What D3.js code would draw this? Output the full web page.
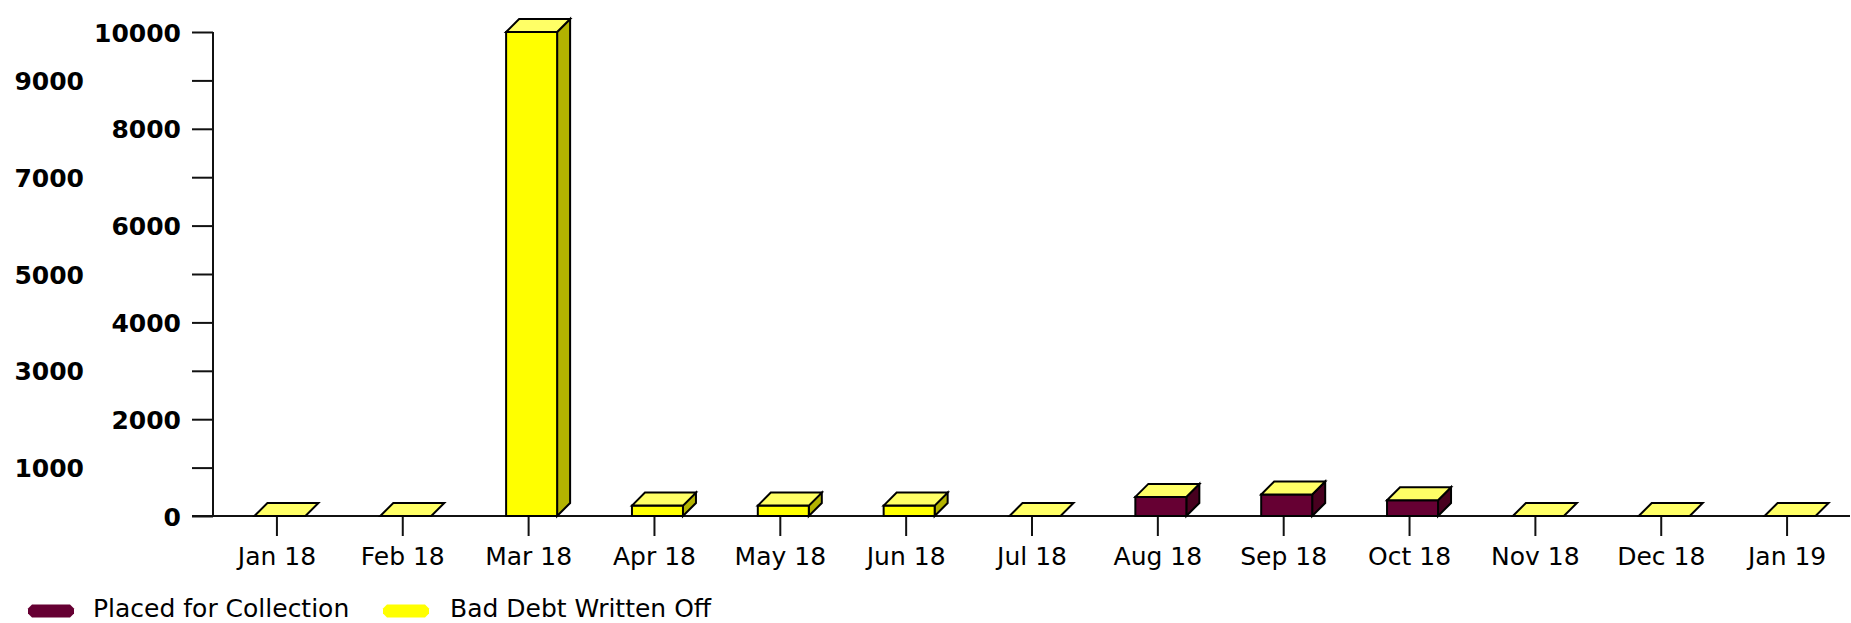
<!DOCTYPE html>
<html>
<head>
<meta charset="utf-8">
<script src="https://cdn.jsdelivr.net/npm/d3@7/dist/d3.min.js"></script>
<style>
  html, body { margin: 0; padding: 0; background: #fff; }
  svg { display: block; }
  text { font-family: "DejaVu Sans", sans-serif; fill: #000; }
</style>
</head>
<body>
<svg id="chart" width="1851" height="623"></svg>
<script>
// Monthly amounts (stacked: collection underneath, write-offs on top)
const categories = ["Jan 18", "Feb 18", "Mar 18", "Apr 18", "May 18", "Jun 18", "Jul 18",
                    "Aug 18", "Sep 18", "Oct 18", "Nov 18", "Dec 18", "Jan 19"];
const placedForCollection = [0, 0, 0, 0, 0, 0, 0, 395, 445, 325, 0, 0, 0];
const badDebtWrittenOff  = [0, 0, 10000, 215, 215, 215, 0, 0, 0, 0, 0, 0, 0];
const yTickValues = [0, 1000, 2000, 3000, 4000, 5000, 6000, 7000, 8000, 9000, 10000];
const seriesNames = ["Placed for Collection", "Bad Debt Written Off"];

const seriesStyle = [
  { front: "#660033", side: "#48001f", top: "#8a2a55" },
  { front: "#ffff00", side: "#b3b300", top: "#ffff66" }
];

const svg = d3.select("#chart");

const x = d3.scaleBand().domain(categories).range([214, 1850]).padding(0);
const y = d3.scaleLinear().domain([0, 10000]).range([516, 32]);

const axisX = 213, axisY = y(0);
const depthX = 13, depthY = 13;
const barOffset = -22.5, barWidth = 51;

// stacked layout
const rows = categories.map((c, i) => ({
  cat: c,
  [seriesNames[0]]: placedForCollection[i],
  [seriesNames[1]]: badDebtWrittenOff[i]
}));
const stacked = d3.stack().keys(seriesNames)(rows);

// ---- axes ----
const gy = svg.append("g").attr("transform", `translate(${axisX},0)`)
  .call(d3.axisLeft(y).tickValues(yTickValues).tickSize(21).tickPadding(0).tickFormat(d3.format("d")));
gy.select(".domain").remove();
gy.selectAll(".tick line").attr("stroke", "#111").attr("stroke-width", 2);
gy.selectAll(".tick text")
  .attr("font-size", 25).attr("font-weight", "bold")
  .attr("font-family", "DejaVu Sans, sans-serif")
  .attr("dy", "0.36em")
  .attr("x", (d, i) => i % 2 === 0 ? -32 : -129)
  .attr("text-anchor", "end");

const gx = svg.append("g").attr("transform", `translate(0,${axisY})`)
  .call(d3.axisBottom(x).tickSize(20).tickPadding(0));
gx.select(".domain").remove();
gx.selectAll(".tick line").attr("stroke", "#111").attr("stroke-width", 2);
gx.selectAll(".tick text")
  .attr("font-size", 25)
  .attr("font-family", "DejaVu Sans, sans-serif")
  .attr("y", 31).attr("dy", "0.71em");

// axis lines
svg.append("line").attr("x1", axisX).attr("x2", axisX).attr("y1", y(10000)).attr("y2", axisY)
  .attr("stroke", "#111").attr("stroke-width", 2);
svg.append("line").attr("x1", axisX - 21).attr("x2", 1850).attr("y1", axisY).attr("y2", axisY)
  .attr("stroke", "#111").attr("stroke-width", 2);

// ---- 3D stacked bars ----
const bars = svg.append("g").attr("stroke", "#000").attr("stroke-width", 2).attr("stroke-linejoin", "miter");

categories.forEach((c, i) => {
  const x0 = x(c) + x.bandwidth() / 2 + barOffset;
  const x1 = x0 + barWidth;
  const g = bars.append("g");
  stacked.forEach((layer, k) => {
    const [v0, v1] = layer[i];
    if (v1 - v0 <= 0) return;
    const yb = y(v0), yt = y(v1);
    // side face
    g.append("path")
      .attr("d", `M${x1},${yb} L${x1 + depthX},${yb - depthY} L${x1 + depthX},${yt - depthY} L${x1},${yt} Z`)
      .attr("fill", seriesStyle[k].side);
    // front face
    g.append("rect").attr("x", x0).attr("y", yt).attr("width", barWidth).attr("height", yb - yt)
      .attr("fill", seriesStyle[k].front);
  });
  // top face of the stack, coloured by the uppermost series
  const topVal = stacked[stacked.length - 1][i][1];
  const yt = y(topVal);
  g.append("path")
    .attr("d", `M${x0},${yt} L${x0 + depthX},${yt - depthY} L${x1 + depthX},${yt - depthY} L${x1},${yt} Z`)
    .attr("fill", seriesStyle[stacked.length - 1].top);
});

// ---- legend ----
const legend = svg.append("g");
const legendItems = [
  { name: seriesNames[0], color: seriesStyle[0].front, sx: 28, tx: 93 },
  { name: seriesNames[1], color: seriesStyle[1].front, sx: 383, tx: 450 }
];
const pill = (x0, yc) => {
  const w = 46, h = 13, c = 4;
  return `M${x0 + c},${yc - h / 2} L${x0 + w - c},${yc - h / 2} L${x0 + w},${yc - h / 2 + c} ` +
         `L${x0 + w},${yc + h / 2 - c} L${x0 + w - c},${yc + h / 2} L${x0 + c},${yc + h / 2} ` +
         `L${x0},${yc + h / 2 - c} L${x0},${yc - h / 2 + c} Z`;
};
legendItems.forEach(it => {
  legend.append("path").attr("d", pill(it.sx, 611)).attr("fill", it.color);
  legend.append("text").attr("x", it.tx).attr("y", 617).attr("font-size", 25).text(it.name);
});
</script>
</body>
</html>
